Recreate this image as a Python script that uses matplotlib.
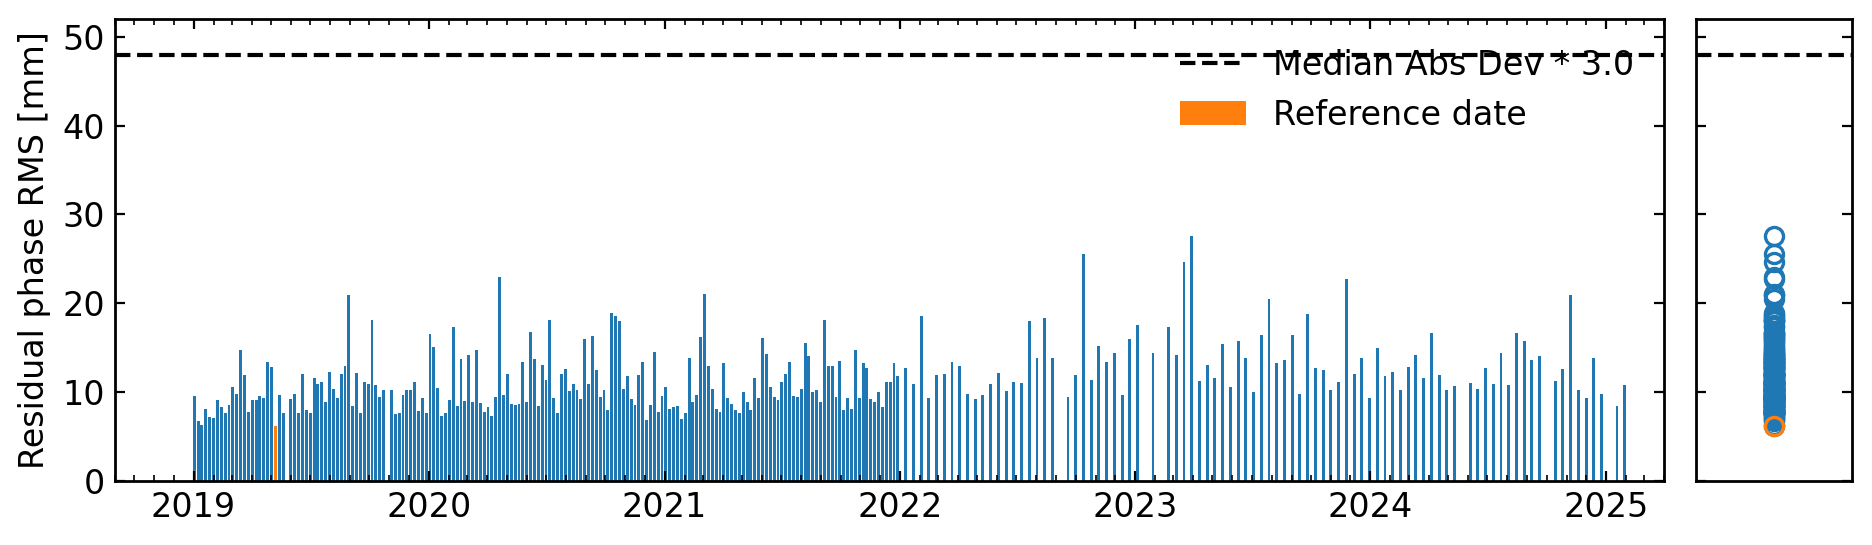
import matplotlib
matplotlib.use("Agg")
import matplotlib.pyplot as plt
import matplotlib.dates as mdates
import numpy as np
import pandas as pd

# acquisition dates (6-day repeat until end of 2021, 12-day afterwards)
dates_2019 = ['2019-01-02', '2019-01-08', '2019-01-14', '2019-01-20', '2019-01-26', '2019-02-01',
              '2019-02-07', '2019-02-13', '2019-02-19', '2019-02-25', '2019-03-03', '2019-03-09',
              '2019-03-15', '2019-03-21', '2019-03-27', '2019-04-02', '2019-04-08', '2019-04-14',
              '2019-04-20', '2019-04-26', '2019-05-02', '2019-05-08', '2019-05-14', '2019-05-20',
              '2019-06-01', '2019-06-07', '2019-06-13', '2019-06-19', '2019-06-25', '2019-07-01',
              '2019-07-07', '2019-07-13', '2019-07-19', '2019-07-25', '2019-07-31', '2019-08-06',
              '2019-08-12', '2019-08-18', '2019-08-24', '2019-08-30', '2019-09-05', '2019-09-11',
              '2019-09-17', '2019-09-23', '2019-09-29', '2019-10-05', '2019-10-11', '2019-10-17',
              '2019-10-23', '2019-11-04', '2019-11-10', '2019-11-16', '2019-11-22', '2019-11-28',
              '2019-12-04', '2019-12-10', '2019-12-16', '2019-12-22', '2019-12-28']
rms_2019 = [9.6, 6.7, 6.3, 8.1, 7.2, 7.1, 9.1, 8.3, 7.6, 8.6, 10.6, 9.8, 14.7, 11.9, 7.8, 9.1,
            9.1, 9.6, 9.4, 13.4, 12.8, 6.2, 9.7, 7.6,
            9.2, 9.8, 7.7, 12.0, 8.0, 7.7, 11.6, 10.9, 11.1, 8.9, 12.3, 10.4, 9.4, 12.1, 12.9,
            20.9, 8.4, 12.2, 7.7, 11.2, 10.9, 18.1, 10.8, 9.5, 10.2,
            10.3, 7.5, 7.6, 9.7, 10.3, 10.3, 11.2, 7.9, 9.4, 7.6]

dates_2020 = ['2020-01-03', '2020-01-09', '2020-01-15', '2020-01-21', '2020-01-27', '2020-02-02',
              '2020-02-08', '2020-02-14', '2020-02-20', '2020-02-26', '2020-03-03', '2020-03-09',
              '2020-03-15', '2020-03-21', '2020-03-27', '2020-04-02', '2020-04-08', '2020-04-14',
              '2020-04-20', '2020-04-26', '2020-05-02', '2020-05-08', '2020-05-14', '2020-05-20',
              '2020-05-26', '2020-06-01', '2020-06-07', '2020-06-13', '2020-06-19', '2020-06-25',
              '2020-07-01', '2020-07-07', '2020-07-13', '2020-07-19', '2020-07-25', '2020-07-31',
              '2020-08-06', '2020-08-12', '2020-08-18', '2020-08-24', '2020-08-30', '2020-09-05',
              '2020-09-11', '2020-09-17', '2020-09-23', '2020-09-29', '2020-10-05', '2020-10-11',
              '2020-10-17', '2020-10-23', '2020-10-29', '2020-11-04', '2020-11-10', '2020-11-16',
              '2020-11-22', '2020-11-28', '2020-12-04', '2020-12-10', '2020-12-16', '2020-12-22',
              '2020-12-28']
rms_2020 = [16.6, 15.1, 10.5, 7.3, 7.6, 9.1, 17.3, 8.4, 13.7, 9.0, 14.2, 8.9, 14.7, 8.8, 7.8,
            8.3, 7.3, 9.5, 23.0, 9.7, 12.0, 8.7, 8.6, 8.7, 13.4, 8.9, 16.8, 13.7, 8.4, 13.1,
            11.4, 18.1, 9.4, 7.7, 12.0, 12.6, 10.1, 10.9, 10.2, 9.2, 16.0, 10.9, 16.3, 12.5,
            9.5, 10.3, 8.0, 18.9, 18.6, 18.0, 10.4, 11.8, 9.2, 8.5, 11.9, 13.4, 6.9, 8.5, 14.5,
            7.8, 9.6]

dates_2021 = ['2021-01-03', '2021-01-09', '2021-01-15', '2021-01-21', '2021-01-27', '2021-02-02',
              '2021-02-08', '2021-02-14', '2021-02-20', '2021-02-26', '2021-03-04', '2021-03-10',
              '2021-03-16', '2021-03-22', '2021-03-28', '2021-04-03', '2021-04-09', '2021-04-15',
              '2021-04-21', '2021-04-27', '2021-05-03', '2021-05-09', '2021-05-15', '2021-05-21',
              '2021-05-27', '2021-06-02', '2021-06-08', '2021-06-14', '2021-06-20', '2021-06-26',
              '2021-07-02', '2021-07-08', '2021-07-14', '2021-07-20', '2021-07-26', '2021-08-01',
              '2021-08-07', '2021-08-13', '2021-08-19', '2021-08-25', '2021-08-31', '2021-09-06',
              '2021-09-12', '2021-09-18', '2021-09-24', '2021-09-30', '2021-10-06', '2021-10-12',
              '2021-10-18', '2021-10-24', '2021-10-30', '2021-11-05', '2021-11-11', '2021-11-17',
              '2021-11-23', '2021-11-29', '2021-12-05', '2021-12-11', '2021-12-17', '2021-12-23',
              '2021-12-29']
rms_2021 = [10.6, 8.1, 8.3, 8.4, 7.0, 7.7, 13.8, 8.9, 9.7, 16.2, 21.0, 13.0, 10.4, 8.1, 7.8,
            13.3, 9.4, 8.7, 8.0, 7.6, 10.0, 8.9, 8.0, 11.6, 9.3, 16.1, 14.3, 10.6, 9.5, 9.1,
            11.2, 12.1, 13.4, 9.6, 9.5, 10.4, 15.5, 14.1, 10.0, 10.3, 8.9, 18.1, 13.0, 13.0,
            9.5, 13.5, 8.0, 9.3, 8.1, 14.7, 9.3, 13.3, 12.7, 9.2, 8.9, 10.0, 8.3, 11.2, 11.2,
            13.3, 11.8]

dates_2022 = ['2022-01-10', '2022-01-22', '2022-02-03', '2022-02-15', '2022-02-27', '2022-03-11',
              '2022-03-23', '2022-04-04', '2022-04-16', '2022-04-28', '2022-05-10', '2022-05-22',
              '2022-06-03', '2022-06-15', '2022-06-27', '2022-07-09', '2022-07-21', '2022-08-02',
              '2022-08-14', '2022-08-26', '2022-09-19', '2022-10-01', '2022-10-13', '2022-10-25',
              '2022-11-06', '2022-11-18', '2022-11-30', '2022-12-12', '2022-12-24']
rms_2022 = [12.7, 10.9, 18.6, 9.3, 11.9, 12.1, 13.4, 12.9, 9.8, 9.2, 9.7, 10.9, 12.2, 10.1,
            11.2, 11.0, 18.0, 13.9, 18.4, 13.9, 9.5, 11.9, 25.5, 11.4, 15.2, 13.4, 14.4, 9.7,
            16.0]

dates_2023 = ['2023-01-05', '2023-01-29', '2023-02-22', '2023-03-06', '2023-03-18', '2023-03-30',
              '2023-04-11', '2023-04-23', '2023-05-05', '2023-05-17', '2023-05-29', '2023-06-10',
              '2023-06-22', '2023-07-04', '2023-07-16', '2023-07-28', '2023-08-09', '2023-08-21',
              '2023-09-02', '2023-09-14', '2023-09-26', '2023-10-08', '2023-10-20', '2023-11-01',
              '2023-11-13', '2023-11-25', '2023-12-07', '2023-12-19', '2023-12-31']
rms_2023 = [17.6, 14.4, 17.3, 14.2, 24.7, 27.6, 11.3, 13.1, 11.6, 15.4, 10.6, 15.8, 13.9, 10.0,
            16.4, 20.5, 13.3, 13.6, 16.4, 9.8, 18.8, 12.7, 12.5, 10.3, 11.2, 22.7, 12.0, 13.9,
            9.4]

dates_2024 = ['2024-01-12', '2024-01-24', '2024-02-05', '2024-02-17', '2024-02-29', '2024-03-12',
              '2024-03-24', '2024-04-05', '2024-04-17', '2024-04-29', '2024-05-11', '2024-06-04',
              '2024-06-16', '2024-06-28', '2024-07-10', '2024-07-22', '2024-08-03', '2024-08-15',
              '2024-08-27', '2024-09-08', '2024-09-20', '2024-10-14', '2024-10-26', '2024-11-07',
              '2024-11-19', '2024-12-01', '2024-12-13', '2024-12-25']
rms_2024 = [15.0, 11.8, 12.3, 10.2, 12.8, 14.2, 11.6, 16.7, 11.9, 10.2, 10.7, 11.0, 10.4, 12.7,
            10.9, 14.4, 10.8, 16.7, 15.8, 13.6, 14.1, 11.3, 12.6, 20.9, 10.2, 9.4, 13.9, 9.8]

dates_2025 = ['2025-01-18', '2025-01-30']
rms_2025 = [8.4, 10.8]

ref_date = '2019-05-08'
mad_threshold = 47.9   # median abs dev * 3.0

dates = pd.to_datetime(dates_2019 + dates_2020 + dates_2021 + dates_2022 + dates_2023
                       + dates_2024 + dates_2025)
rms = np.array(rms_2019 + rms_2020 + rms_2021 + rms_2022 + rms_2023 + rms_2024 + rms_2025)
is_ref = dates == pd.Timestamp(ref_date)

plt.rcParams['font.size'] = 12

fig = plt.figure(figsize=(9.36, 2.725), dpi=200)
ax = fig.add_axes([0.0614, 0.1174, 0.8275, 0.8477])
ax_r = fig.add_axes([0.906, 0.1174, 0.0833, 0.8477])

# time series of residual RMS
ax.bar(dates[~is_ref], rms[~is_ref], width=4.5, color='C0')
ax.bar(dates[is_ref], rms[is_ref], width=4.5, color='C1', label='Reference date')
ax.axhline(mad_threshold, color='k', ls='--', lw=1.5, label='Median Abs Dev * 3.0')

ax.set_xlim(pd.Timestamp('2018-09-01'), pd.Timestamp('2025-04-01'))
ax.set_ylim(0, 52)
ax.set_ylabel('Residual phase RMS [mm]')
ax.xaxis.set_major_locator(mdates.YearLocator())
ax.xaxis.set_minor_locator(mdates.MonthLocator())
ax.xaxis.set_major_formatter(mdates.DateFormatter('%Y'))
ax.tick_params(which='both', direction='in', top=True, right=True)
ax.legend(loc='upper right', frameon=False, fontsize=12)
for sp in ax.spines.values():
    sp.set_linewidth(1.0)

# distribution of the same values
ax_r.plot(np.zeros(len(rms)), rms, 'o', mfc='none', mec='C0', ms=6.5, mew=1.2)
ax_r.plot(np.zeros(is_ref.sum()), rms[is_ref], 'o', mfc='none', mec='C1', ms=6.5, mew=1.2)
ax_r.axhline(mad_threshold, color='k', ls='--', lw=1.5)
ax_r.set_xlim(-1, 1)
ax_r.set_ylim(0, 52)
ax_r.set_xticks([])
ax_r.set_yticks(np.arange(0, 51, 10))
ax_r.tick_params(direction='in', left=True, right=True, labelleft=False)
for sp in ax_r.spines.values():
    sp.set_linewidth(1.0)

fig.savefig('out.png', dpi=200)
